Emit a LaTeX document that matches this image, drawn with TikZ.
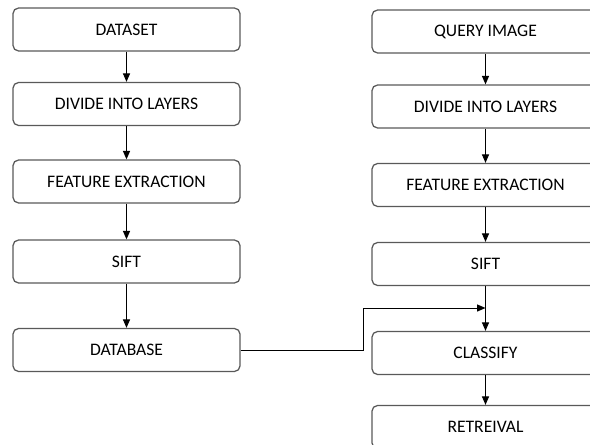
\documentclass[tikz,border=0pt]{standalone}
\usepackage{fontspec}
\setmainfont{Carlito}
\usetikzlibrary{arrows.meta}
\tikzset{
  stage/.style={draw=black!65, line width=0.9pt, rounded corners=4pt, minimum width=5.675cm,
    minimum height=1.075cm, inner sep=0pt, font=\fontsize{12.5}{14}\selectfont},
  flow/.style={-{Triangle[length=6pt,width=5pt]}, line width=0.7pt}
}
\begin{document}
\begin{tikzpicture}[x=0.025cm,y=-0.025cm]
      \useasboundingbox (0,0) rectangle (590,445);
      \clip (0,0) rectangle (590,445);
      \draw
        (126.5,29.5) node[stage] (ds){DATASET}
        (126.5,104) node[stage] (dl){DIVIDE INTO LAYERS}
        (126.5,181.5) node[stage] (fe){FEATURE EXTRACTION}
        (126.5,261.5) node[stage] (sf){SIFT}
        (126.5,350) node[stage] (db){DATABASE};
      \draw
        (485.5,31.5) node[stage] (qi){QUERY IMAGE}
        (485.5,106.5) node[stage] (qdl){DIVIDE INTO LAYERS}
        (485.5,185) node[stage] (qfe){FEATURE EXTRACTION}
        (485.5,264) node[stage] (qsf){SIFT}
        (485.5,353) node[stage] (cl){CLASSIFY}
        (485.5,427) node[stage] (rt){RETREIVAL};
      \coordinate (j) at (485.5,308);
      \begin{scope}[flow]
        \draw (ds) to (dl);
        \draw (dl) to (fe);
        \draw (fe) to (sf);
        \draw (sf) to (db);
        \draw (qi) to (qdl);
        \draw (qdl) to (qfe);
        \draw (qfe) to (qsf);
        \draw (qsf) to (cl);
        \draw (cl) to (rt);
        \draw (db.east) -- ++(123,0) |- (j);
      \end{scope}
    \end{tikzpicture}
\end{document}
